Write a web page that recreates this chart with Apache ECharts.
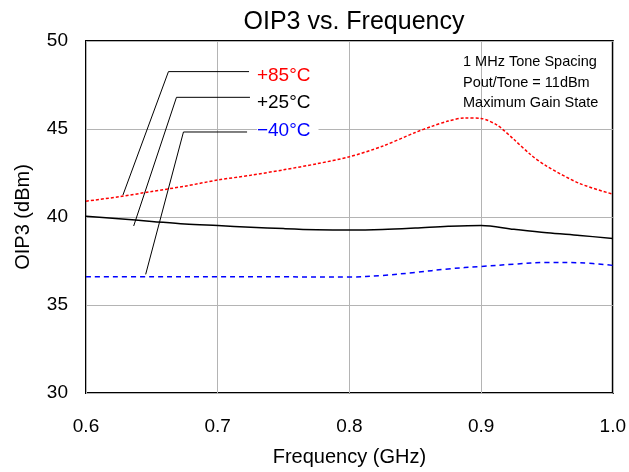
<!DOCTYPE html>
<html>
<head>
<meta charset="utf-8">
<script src="https://cdn.jsdelivr.net/npm/echarts@6/dist/echarts.min.js"></script>
<style>html,body{margin:0;padding:0;background:#fff}#c{width:629px;height:472px}</style>
</head>
<body>
<div id="c"></div>
<script>
// ---- data ----
var xTicks = [0.6, 0.7, 0.8, 0.9, 1.0];
var yTicks = [30, 35, 40, 45, 50];

var freq85 = [0.6, 0.625, 0.65, 0.675, 0.7, 0.725, 0.75, 0.775, 0.8, 0.825, 0.85, 0.8625, 0.875, 0.8875, 0.9, 0.9125, 0.925, 0.9375, 0.95, 0.975, 1.0];
var oip85  = [40.9, 41.15, 41.45, 41.75, 42.1, 42.37, 42.68, 43.02, 43.42, 44.02, 44.8, 45.15, 45.45, 45.63, 45.6, 45.2, 44.4, 43.55, 42.88, 41.9, 41.3];

var freq25 = [0.6, 0.625, 0.65, 0.675, 0.7, 0.725, 0.75, 0.775, 0.8, 0.825, 0.85, 0.875, 0.9, 0.925, 0.95, 0.975, 1.0];
var oip25  = [40.04, 39.9, 39.75, 39.6, 39.51, 39.42, 39.34, 39.28, 39.26, 39.29, 39.37, 39.47, 39.52, 39.3, 39.1, 38.95, 38.78];

var freqM40 = [0.6, 0.65, 0.7, 0.75, 0.8, 0.825, 0.85, 0.875, 0.9, 0.925, 0.95, 0.975, 1.0];
var oipM40  = [36.61, 36.61, 36.61, 36.6, 36.59, 36.68, 36.85, 37.05, 37.19, 37.32, 37.42, 37.4, 37.25];

var seriesNames = ['+85°C', '+25°C', '−40°C'];
var seriesColors = ['#ff0000', '#000000', '#0000ff'];

// leader lines: [end near curve, elbow, horizontal end] in data coords
var leader85 = [[0.628, 41.24], [0.6626, 48.26], [0.7238, 48.26]];
var leader25 = [[0.6362, 39.49], [0.6687, 46.8], [0.7245, 46.8]];
var leaderM40 = [[0.6453, 36.74], [0.674, 44.83], [0.7223, 44.83]];
var labelPos = [[0.7298, 48.05], [0.7298, 46.5], [0.7298, 44.92]];

var noteLines = ['1 MHz Tone Spacing', 'Pout/Tone = 11dBm', 'Maximum Gain State'];
var titleText = 'OIP3 vs. Frequency';
var xName = 'Frequency (GHz)';
var yName = 'OIP3 (dBm)';

function zip(a, b) { return a.map(function (v, i) { return [v, b[i]]; }); }

var FONT = '"Liberation Sans", Arial, Helvetica, sans-serif';
var chart = echarts.init(document.getElementById('c'), null, {renderer: 'canvas'});

function leaderSeries(pts) {
  return {
    type: 'line', data: pts, symbol: 'none', silent: true, smooth: false,
    lineStyle: {color: '#000', width: 1}, z: 3, animation: false
  };
}

var option = {
  animation: false,
  backgroundColor: '#fff',
  title: {
    text: titleText, left: 349, top: 5, textAlign: 'center',
    textStyle: {fontFamily: FONT, fontSize: 25, fontWeight: 'normal', color: '#000'}
  },
  grid: {left: 86, right: 13, top: 41, bottom: 74, show: true, borderColor: '#000', borderWidth: 2, backgroundColor: 'transparent'},
  xAxis: {
    type: 'value', min: xTicks[0], max: xTicks[xTicks.length - 1], interval: 0.1,
    name: xName, nameLocation: 'middle', nameGap: 54,
    nameTextStyle: {fontFamily: FONT, fontSize: 20, color: '#000'},
    axisLine: {show: false}, axisTick: {show: false},
    axisLabel: {fontFamily: FONT, fontSize: 19, color: '#000', margin: 24,
      formatter: function (v) { return v.toFixed(1); }},
    splitLine: {show: true, lineStyle: {color: '#b4b4b4', width: 1}}
  },
  yAxis: {
    type: 'value', min: yTicks[0], max: yTicks[yTicks.length - 1], interval: 5,
    name: yName, nameLocation: 'middle', nameGap: 53,
    nameTextStyle: {fontFamily: FONT, fontSize: 20, color: '#000'},
    axisLine: {show: false}, axisTick: {show: false},
    axisLabel: {fontFamily: FONT, fontSize: 19, color: '#000', margin: 18},
    splitLine: {show: true, lineStyle: {color: '#b4b4b4', width: 1}}
  },
  series: [
    {name: seriesNames[0], type: 'line', data: zip(freq85, oip85), smooth: 0.3, symbol: 'none',
      lineStyle: {color: seriesColors[0], width: 1.5, type: [3, 2]}, z: 4},
    {name: seriesNames[1], type: 'line', data: zip(freq25, oip25), smooth: 0.35, symbol: 'none',
      lineStyle: {color: seriesColors[1], width: 1.5, type: 'solid'}, z: 4},
    {name: seriesNames[2], type: 'line', data: zip(freqM40, oipM40), smooth: 0.35, symbol: 'none',
      lineStyle: {color: seriesColors[2], width: 1.5, type: [5, 4]}, z: 4},
    leaderSeries(leader85), leaderSeries(leader25), leaderSeries(leaderM40)
  ]
};
chart.setOption(option);

// annotation labels and note, placed via the chart's own coordinate conversion
var graphics = [];
labelPos.forEach(function (p, i) {
  var px = chart.convertToPixel({gridIndex: 0}, p);
  graphics.push({
    type: 'text', x: px[0], y: px[1], z: 10,
    style: {text: seriesNames[i], fill: seriesColors[i], font: '19px ' + FONT,
      textVerticalAlign: 'middle', verticalAlign: 'middle', align: 'left',
      backgroundColor: '#fff', padding: [0, 8, 0, 0]}
  });
});
graphics.push({
  type: 'text', left: 463, top: 52, z: 10,
  style: {text: noteLines.join('\n'), fill: '#000', font: '14.5px ' + FONT, lineHeight: 20.5}
});
chart.setOption({graphic: graphics});
</script>
</body>
</html>
